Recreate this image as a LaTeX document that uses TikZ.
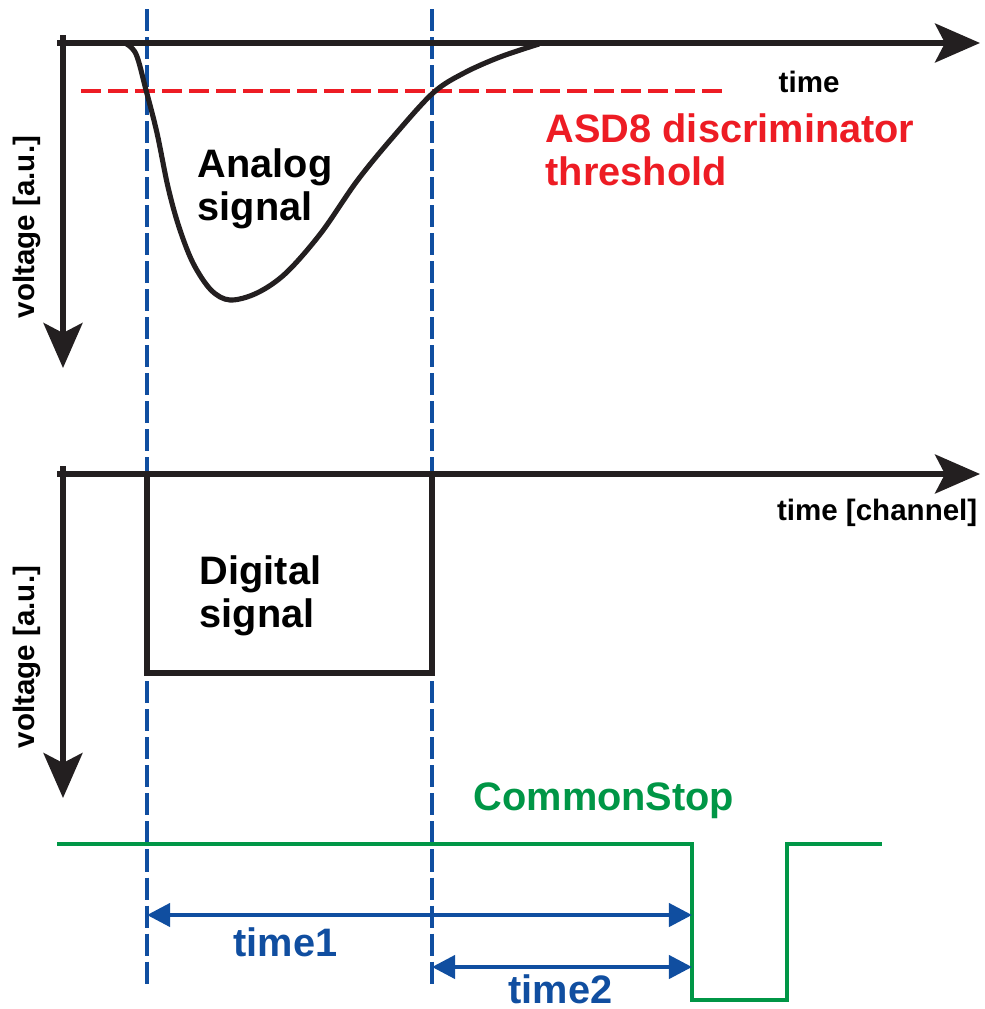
\documentclass[tikz,border=0pt]{standalone}
\usepackage{fontspec}
\setmainfont{Liberation Sans}
\usetikzlibrary{arrows.meta}

\definecolor{sigblack}{RGB}{35,31,32}
\definecolor{thrred}{RGB}{237,28,36}
\definecolor{markblue}{RGB}{16,78,160}
\definecolor{stopgreen}{RGB}{0,150,70}

\begin{document}
\begin{tikzpicture}
  [
    x=0.01cm, y=-0.01cm,
    axis/.style   = {draw=sigblack, line width=1.45pt, -{Stealth[length=0.45cm, width=0.39cm, inset=0.1cm]}},
    sig/.style    = {draw=sigblack, line width=1.45pt},
    marker/.style = {draw=markblue, line width=1.25pt, dash pattern=on 0.22cm off 0.06cm},
    thr/.style    = {draw=thrred, line width=1.35pt, dash pattern=on 0.2cm off 0.07cm},
    dim/.style    = {draw=markblue, line width=1.15pt, {Triangle[length=0.23cm, width=0.23cm]}-{Triangle[length=0.23cm, width=0.23cm]}},
    big/.style    = {font=\fontsize{11.3}{12.2}\selectfont\bfseries, inner sep=0pt, align=left},
    small/.style  = {font=\fontsize{8.4}{9}\selectfont\bfseries, inner sep=0pt},
  ]

\useasboundingbox (0,0) rectangle (984,1009);

%Positions of the threshold crossings and of the stop
\def \tA{147}
\def \tB{432}
\def \tstop{692}

%Origins of the two plots
\def \xo{63}
\def \yan{43}
\def \ydig{474}

%Dashed markers at the threshold crossings
\foreach \t in {\tA,\tB}
{
\coordinate (mtop\t) at (\t,9);
\coordinate (mbot\t) at (\t,985);
\draw[marker] (mtop\t) -- (mbot\t);
}

%Threshold
\coordinate (thrL) at (81,91);
\coordinate (thrR) at (725,91);
\draw[thr] (thrL) -- (thrR);

%Analog plot axes
\coordinate (aorig) at (\xo,35);
\coordinate (ay) at (\xo,368);
\coordinate (ax0) at (57,\yan);
\coordinate (ax) at (980,\yan);
\draw[axis] (ax0) -- (ax);
\draw[axis] (aorig) -- (ay);

%Analog signal
\draw[sig] plot[smooth, tension=0.55] coordinates {
  (125,43) (136,54) (146,90) (157,133) (168,187) (179,227) (193,263)
  (211,290) (230,300) (257,293) (286,273) (321,233) (357,181)
  (393,137) (433,93) (464,73) (500,57) (539,44)};

%(base of a two-line node = baseline of its last line)
\node[small, anchor=base west] (tlabel) at (778,92) {time};
\node[big, text=thrred, anchor=base west] (thrlabel) at (545,185) {ASD8 discriminator\\threshold};
\node[big, anchor=base west] (anlabel) at (197,220) {Analog\\signal};
\node[small, rotate=90] (vlabel1) at (27,227) {voltage [a.u.]};

%Digital plot axes
\coordinate (dorig) at (\xo,466);
\coordinate (dy) at (\xo,798);
\coordinate (dx0) at (57,\ydig);
\coordinate (dx) at (980,\ydig);
\draw[axis] (dx0) -- (dx);
\draw[axis] (dorig) -- (dy);

%Digital signal
\draw[sig] (\tA,\ydig) -- (\tA,673) -- (\tB,673) -- (\tB,\ydig);

\node[small, anchor=base east] (tchlabel) at (978,520) {time [channel]};
\node[big, anchor=base west] (diglabel) at (199,627) {Digital\\signal};
\node[small, rotate=90] (vlabel2) at (27,657) {voltage [a.u.]};

%Common stop
\draw[stopgreen, line width=1.2pt] (57,844) -- (\tstop,844) -- (\tstop,1000) -- (787,1000) -- (787,844) -- (882,844);
\node[big, text=stopgreen, anchor=base west] (stoplabel) at (473,810) {CommonStop};

%Measured times
\coordinate (startA) at (\tA,915);
\coordinate (stopA) at (\tstop,915);
\coordinate (startB) at (\tB,967);
\coordinate (stopB) at (\tstop,967);
\draw[dim] (startA) -- (stopA);
\draw[dim] (startB) -- (stopB);

\node[big, text=markblue, anchor=base west] (t1label) at (233,956) {time1};
\node[big, text=markblue, anchor=base west] (t2label) at (508,1003) {time2};
\end{tikzpicture}
\end{document}
